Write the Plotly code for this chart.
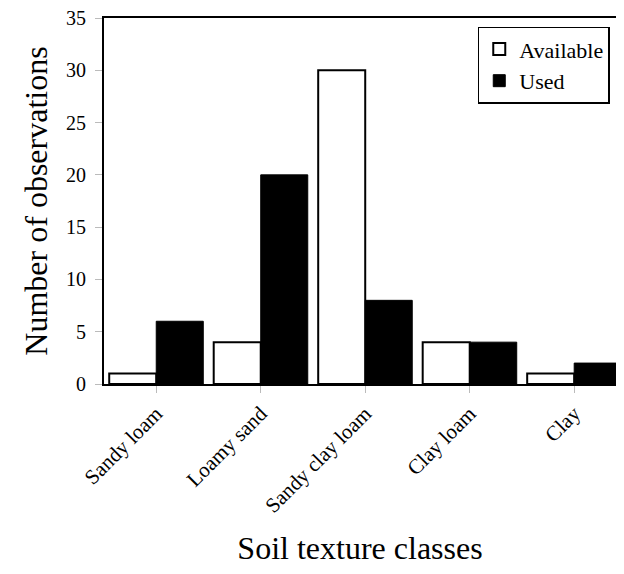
import plotly.graph_objects as go

categories = ["Sandy loam", "Loamy sand", "Sandy clay loam", "Clay loam", "Clay"]
available = [1, 4, 30, 4, 1]
used = [6, 20, 8, 4, 2]
y_ticks = [0, 5, 10, 15, 20, 25, 30, 35]

FONT = "Liberation Serif, Times New Roman, serif"

fig = go.Figure()
fig.add_trace(go.Bar(
    x=categories, y=available, name="Available",
    marker=dict(color="white", line=dict(color="black", width=2)),
))
fig.add_trace(go.Bar(
    x=categories, y=used, name="Used",
    marker=dict(color="black", line=dict(color="black", width=1)),
))

fig.update_layout(
    width=608, height=558,
    margin=dict(l=96, r=0, t=10, b=182),
    paper_bgcolor="white", plot_bgcolor="white",
    barmode="group", bargap=0.1, bargroupgap=0,
    font=dict(family=FONT, color="black", size=21),
    showlegend=True,
    legend=dict(
        x=0.730, y=0.976, xanchor="left", yanchor="top",
        bordercolor="black", borderwidth=1.5, bgcolor="white",
        font=dict(family=FONT, size=22, color="black"),
        itemwidth=30, tracegroupgap=0,
    ),
    xaxis=dict(
        range=[-0.5, 4.40],
        showline=True, linecolor="black", linewidth=2, mirror=True,
        ticks="outside", ticklen=7, tickcolor="#bbbbbb", tickwidth=1,
        tickangle=-45, tickfont=dict(family=FONT, size=21),
        showgrid=False, zeroline=False, automargin=False,
        title=dict(text="Soil texture classes", font=dict(family=FONT, size=32), standoff=34),
    ),
    yaxis=dict(
        range=[0, 35], tickvals=y_ticks,
        showline=True, linecolor="black", linewidth=2,
        ticks="outside", ticklen=7, tickcolor="#bbbbbb", tickwidth=1,
        ticklabelstandoff=5, ticklabeloverflow="allow",
        tickfont=dict(family=FONT, size=20),
        showgrid=False, zeroline=False, automargin=False,
        title=dict(text="Number of observations", font=dict(family=FONT, size=32), standoff=9),
    ),
)

fig.write_html("out.html")
